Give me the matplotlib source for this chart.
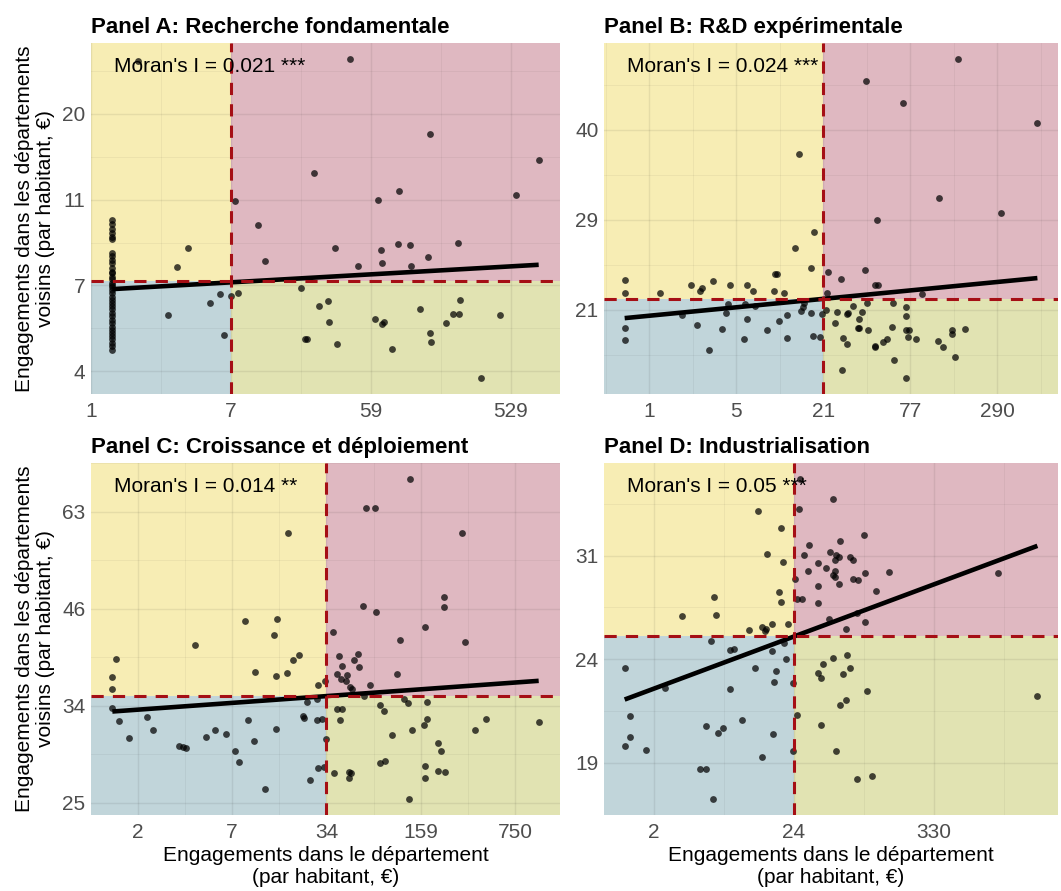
import numpy as np
import matplotlib.pyplot as plt
from matplotlib.patches import Rectangle

plt.rcParams['font.family'] = ['Liberation Sans', 'DejaVu Sans']

# Axis positions are on the transformed (log) scale: one unit = one labelled break.

# Panel A: Recherche fondamentale
a_xticks = ['1', '7', '59', '529']
a_yticks = ['4', '7', '11', '20']
a_stack_y = [1.76, 1.72, 1.66, 1.61, 1.56, 1.54, 1.38, 1.34, 1.30, 1.26, 1.20, 1.16,
             1.14, 1.10, 1.07, 1.03, 1.01, 0.98, 0.95, 0.91, 0.87, 0.83, 0.79, 0.76,
             0.72, 0.68, 0.64, 0.60, 0.56, 0.52, 0.48, 0.45, 0.41, 0.37, 0.33, 0.29, 0.25]
a_stack_x = [0.15] * len(a_stack_y)   # all departments at the minimum
a_x = [0.33, 1.85, 2.42, 3.20, 1.59, 2.20, 2.05, 3.04, 1.03, 1.19,
       0.69, 1.74, 2.07, 2.19, 2.28, 2.62, 0.61, 1.24, 1.91, 2.08,
       2.29, 2.41, 1.50, 0.92, 1.00, 1.05, 0.85, 1.63, 1.69, 2.35,
       2.64, 0.55, 2.59, 2.63, 2.92, 2.03, 2.09, 2.08, 1.70, 2.54,
       0.95, 2.42, 1.53, 1.54, 1.76, 2.43, 2.15, 2.79]
a_y = [3.62, 3.64, 2.77, 2.46, 2.31, 2.10, 2.00, 2.05, 1.98, 1.71,
       1.44, 1.44, 1.41, 1.48, 1.47, 1.50, 1.22, 1.29, 1.23, 1.26,
       1.23, 1.33, 0.97, 0.90, 0.88, 0.91, 0.79, 0.76, 0.82, 0.72,
       0.83, 0.65, 0.67, 0.67, 0.66, 0.61, 0.57, 0.55, 0.57, 0.56,
       0.42, 0.45, 0.38, 0.38, 0.32, 0.34, 0.26, -0.08]
a_mean = (1.0, 1.05)
a_fit = (0.943, 0.093)   # intercept, slope

# Panel B: R&D expérimentale
b_xticks = ['1', '5', '21', '77', '290']
b_yticks = ['21', '29', '40']
b_x = [3.55, 2.49, 2.92, 4.46, 1.72, 3.33, 4.04, 2.62, 1.89, 1.68,
       1.86, 2.48, 2.06, 2.20, 1.45, 1.47, -0.28, 0.73, 0.48, 0.93,
       1.12, 0.61, 0.58, 1.19, 1.44, 1.55, -0.28, 0.13, 2.59, 2.63,
       2.04, 3.13, 2.50, 2.80, 2.34, 2.95, 0.91, 1.10, 1.22, 1.78,
       1.77, 2.03, 2.16, 2.44, 2.29, 2.27, 0.88, 0.38, 1.58, 1.86,
       1.99, 1.75, 2.95, 2.41, 1.13, 1.49, 2.14, 0.55, -0.28, 0.84,
       1.36, 2.40, 2.41, 2.79, 2.51, 2.95, 2.98, 3.48, 3.48, 3.63,
       1.88, 1.96, 1.59, 2.23, 2.73, 2.97, 3.07, -0.28, 1.09, 2.69,
       2.27, 2.60, 2.59, 3.32, 3.38, 0.69, 3.51, 2.81, 2.22, 2.95]
b_y = [2.79, 2.55, 2.30, 2.08, 1.73, 1.24, 1.08, 1.00, 0.86, 0.69,
       0.47, 0.44, 0.42, 0.34, 0.40, 0.40, 0.33, 0.32, 0.27, 0.27,
       0.27, 0.24, 0.21, 0.21, 0.21, 0.19, 0.19, 0.19, 0.28, 0.28,
       0.19, 0.17, 0.08, 0.07, 0.04, 0.03, 0.06, 0.06, 0.04, 0.07,
       0.03, 0.00, -0.03, -0.02, -0.04, -0.05, -0.04, -0.06, -0.06, -0.04,
       -0.05, -0.01, -0.07, -0.10, -0.10, -0.13, -0.15, -0.17, -0.20, -0.21,
       -0.23, -0.20, -0.20, -0.19, -0.22, -0.22, -0.23, -0.23, -0.27, -0.21,
       -0.29, -0.30, -0.31, -0.31, -0.32, -0.30, -0.32, -0.34, -0.33, -0.36,
       -0.38, -0.40, -0.42, -0.35, -0.41, -0.45, -0.53, -0.56, -0.67, -0.76]
b_mean = (2.0, 0.12)
b_fit = (-0.067, 0.094)

# Panel C: Croissance et déploiement
c_xticks = ['2', '7', '34', '159', '750']
c_yticks = ['25', '34', '46', '63']
c_x = [2.89, 2.42, 2.51, 1.59, 3.44, 3.25, 3.25, 2.39, 2.53, 1.14,
       1.48, 3.04, 2.07, 1.44, 2.78, 3.47, 0.61, -0.23, 1.64, 1.71,
       2.13, 2.29, 2.33, 2.16, 2.34, 1.24, 1.47, 1.58, 2.11, 2.22,
       2.75, -0.27, -0.27, 2.15, 2.21, 1.98, 1.91, 2.46, 2.25, 2.27,
       2.40, 1.79, 1.90, 2.82, 2.86, 3.07, -0.27, 2.11, 2.16, 2.57,
       2.61, 0.10, 1.75, 1.76, 1.95, 1.90, 2.14, 1.17, 3.07, 3.03,
       3.69, 4.25, -0.20, 0.16, 1.47, 2.91, 3.58, 0.82, 0.94, 2.69,
       -0.09, 0.72, 1.99, 1.23, 3.18, 3.21, 0.44, 0.48, 0.51, 1.03,
       1.07, 2.57, 2.62, 1.91, 1.97, 3.04, 3.18, 3.26, 2.08, 2.24,
       2.26, 2.24, 3.04, 1.83, 1.35, 2.88]
c_y = [3.34, 3.04, 3.04, 2.78, 2.78, 2.12, 2.02, 2.03, 1.97, 1.88,
       1.90, 1.81, 1.76, 1.73, 1.68, 1.66, 1.63, 1.48, 1.47, 1.52,
       1.51, 1.47, 1.54, 1.41, 1.40, 1.35, 1.31, 1.34, 1.33, 1.32,
       1.33, 1.30, 1.17, 1.28, 1.26, 1.26, 1.22, 1.22, 1.20, 1.17,
       1.10, 1.04, 1.07, 1.07, 1.03, 1.04, 0.98, 0.97, 0.97, 1.01,
       0.95, 0.89, 0.90, 0.88, 0.87, 0.85, 0.85, 0.85, 0.86, 0.80,
       0.87, 0.83, 0.84, 0.75, 0.76, 0.75, 0.75, 0.75, 0.71, 0.70,
       0.67, 0.68, 0.66, 0.64, 0.62, 0.54, 0.59, 0.58, 0.57, 0.53,
       0.42, 0.41, 0.43, 0.36, 0.37, 0.38, 0.33, 0.32, 0.31, 0.32,
       0.31, 0.26, 0.26, 0.24, 0.14, 0.04]
c_mean = (2.0, 1.10)
c_fit = (0.961, 0.070)

# Panel D: Industrialisation
d_xticks = ['2', '24', '330']
d_yticks = ['19', '24', '31']
d_x = [1.045, 1.28, 1.035, 0.74, 0.91, 1.50, 1.33, 1.11, 0.81, 1.07,
       1.26, 1.29, 1.30, 1.32, 1.40, 1.42, 0.92, 1.17, 1.23, 1.10,
       1.29, 1.28, 1.29, 1.51, 1.68, 2.46, 1.005, 1.17, 1.32, 1.42,
       1.46, 1.59, 0.89, 0.43, 0.91, 1.02, 1.06, 1.17, 0.20, 0.44,
       1.45, 1.25, 1.51, 0.84, 0.96, 0.77, 0.80, 0.79, 0.68, 1.37,
       0.41, 0.54, 0.57, 0.93, 0.84, 0.94, 1.28, 1.38, 1.21, -0.21,
       0.72, 0.87, 1.40, 1.17, 1.19, 1.35, 0.99, 0.86, 0.075, 0.54,
       1.52, 2.74, 1.375, 1.33, 1.02, -0.17, 0.63, 1.19, 0.37, 0.49,
       0.46, 0.85, -0.17, -0.21, -0.06, 0.99, 1.30, 0.77, 0.33, 0.37,
       1.56, 1.45, 0.42]
d_y = [2.74, 2.55, 2.45, 2.43, 2.27, 2.20, 2.14, 2.10, 2.02, 2.01,
       2.03, 1.96, 2.01, 1.99, 1.99, 1.96, 1.94, 1.93, 1.88, 1.85,
       1.85, 1.81, 1.79, 1.83, 1.84, 1.83, 1.77, 1.71, 1.73, 1.77,
       1.76, 1.66, 1.65, 1.60, 1.55, 1.58, 1.58, 1.54, 1.42, 1.43,
       1.45, 1.39, 1.36, 1.34, 1.34, 1.31, 1.29, 1.27, 1.28, 1.29,
       1.18, 1.09, 1.10, 1.16, 1.08, 1.00, 1.01, 1.04, 0.95, 0.91,
       0.91, 0.89, 0.91, 0.87, 0.82, 0.86, 0.77, 0.78, 0.72, 0.71,
       0.69, 0.64, 0.61, 0.56, 0.46, 0.45, 0.41, 0.36, 0.35, 0.34,
       0.29, 0.28, 0.25, 0.16, 0.12, 0.11, 0.11, 0.06, -0.06, -0.06,
       -0.13, -0.16, -0.35]
d_mean = (1.0, 1.22)
d_fit = (0.716, 0.503)

titles = ['Panel A: Recherche fondamentale', 'Panel B: R&D expérimentale',
          'Panel C: Croissance et déploiement', 'Panel D: Industrialisation']
morans = ["Moran's I = 0.021 ***", "Moran's I = 0.024 ***",
          "Moran's I = 0.014 **", "Moran's I = 0.05 ***"]
xlabel = 'Engagements dans le département\n(par habitant, €)'
ylabel = 'Engagements dans les départements\nvoisins (par habitant, €)'

# quadrant colours: low-low, high-low, low-high, high-high
col_ll = '#C1D5DA'
col_hl = '#E1E3B2'
col_lh = '#F7EDB4'
col_hh = '#DFB8C1'


def draw_panel(ax, x, y, xticks, yticks, mean, fit, title, moran):
    x = np.asarray(x)
    y = np.asarray(y)
    xr = x.max() - x.min()
    yr = y.max() - y.min()
    x0, x1 = x.min() - 0.05 * xr, x.max() + 0.05 * xr
    y0, y1 = y.min() - 0.05 * yr, y.max() + 0.05 * yr
    ax.set_xlim(x0, x1)
    ax.set_ylim(y0, y1)
    mx, my = mean

    ax.add_patch(Rectangle((x0, y0), mx - x0, my - y0, color=col_ll, lw=0, zorder=0))
    ax.add_patch(Rectangle((mx, y0), x1 - mx, my - y0, color=col_hl, lw=0, zorder=0))
    ax.add_patch(Rectangle((x0, my), mx - x0, y1 - my, color=col_lh, lw=0, zorder=0))
    ax.add_patch(Rectangle((mx, my), x1 - mx, y1 - my, color=col_hh, lw=0, zorder=0))

    ax.set_xticks(np.arange(len(xticks)))
    ax.set_xticklabels(xticks)
    ax.set_yticks(np.arange(len(yticks)))
    ax.set_yticklabels(yticks)
    ax.set_xticks(np.arange(-0.5, len(xticks) + 0.5, 1.0), minor=True)
    ax.set_yticks(np.arange(-0.5, len(yticks) + 0.5, 1.0), minor=True)
    ax.grid(which='major', color='black', alpha=0.07, lw=1.0)
    ax.grid(which='minor', color='black', alpha=0.05, lw=0.6)
    ax.set_xlim(x0, x1)
    ax.set_ylim(y0, y1)

    ax.scatter(x, y, s=24, color='black', alpha=0.72, lw=0, zorder=2)

    xs = np.array([x.min(), x.max()])
    ax.plot(xs, fit[0] + fit[1] * xs, color='black', lw=3.3, zorder=3,
            solid_capstyle='butt')

    ax.axvline(mx, color='#A50F15', lw=2.2, ls=(0, (4, 3)), zorder=4)
    ax.axhline(my, color='#A50F15', lw=2.2, ls=(0, (4, 3)), zorder=4)

    ax.text(0.05, 0.932, moran, transform=ax.transAxes, ha='left', va='center',
            fontsize=15, color='black', zorder=5)
    ax.set_title(title, loc='left', fontweight='bold', fontsize=16, pad=7)

    for s in ax.spines.values():
        s.set_visible(False)
    ax.tick_params(which='both', length=0, labelsize=15, labelcolor='#4D4D4D')
    ax.tick_params(axis='x', pad=6)
    ax.tick_params(axis='y', pad=4)


fig = plt.figure(figsize=(10.61, 8.91), dpi=100)
ax_a = fig.add_axes([0.0858, 0.5578, 0.4420, 0.3939])
ax_b = fig.add_axes([0.5693, 0.5578, 0.4279, 0.3939])
ax_c = fig.add_axes([0.0858, 0.0853, 0.4420, 0.3951])
ax_d = fig.add_axes([0.5693, 0.0853, 0.4279, 0.3951])

draw_panel(ax_a, a_stack_x + a_x, a_stack_y + a_y, a_xticks, a_yticks,
           a_mean, a_fit, titles[0], morans[0])
draw_panel(ax_b, b_x, b_y, b_xticks, b_yticks, b_mean, b_fit, titles[1], morans[1])
draw_panel(ax_c, c_x, c_y, c_xticks, c_yticks, c_mean, c_fit, titles[2], morans[2])
draw_panel(ax_d, d_x, d_y, d_xticks, d_yticks, d_mean, d_fit, titles[3], morans[3])

for ax in (ax_a, ax_c):
    ax.set_ylabel(ylabel, fontsize=15, labelpad=5, linespacing=1.15)
for ax in (ax_c, ax_d):
    ax.set_xlabel(xlabel, fontsize=15, labelpad=3, linespacing=1.15)

fig.savefig('out.png', dpi=100)
